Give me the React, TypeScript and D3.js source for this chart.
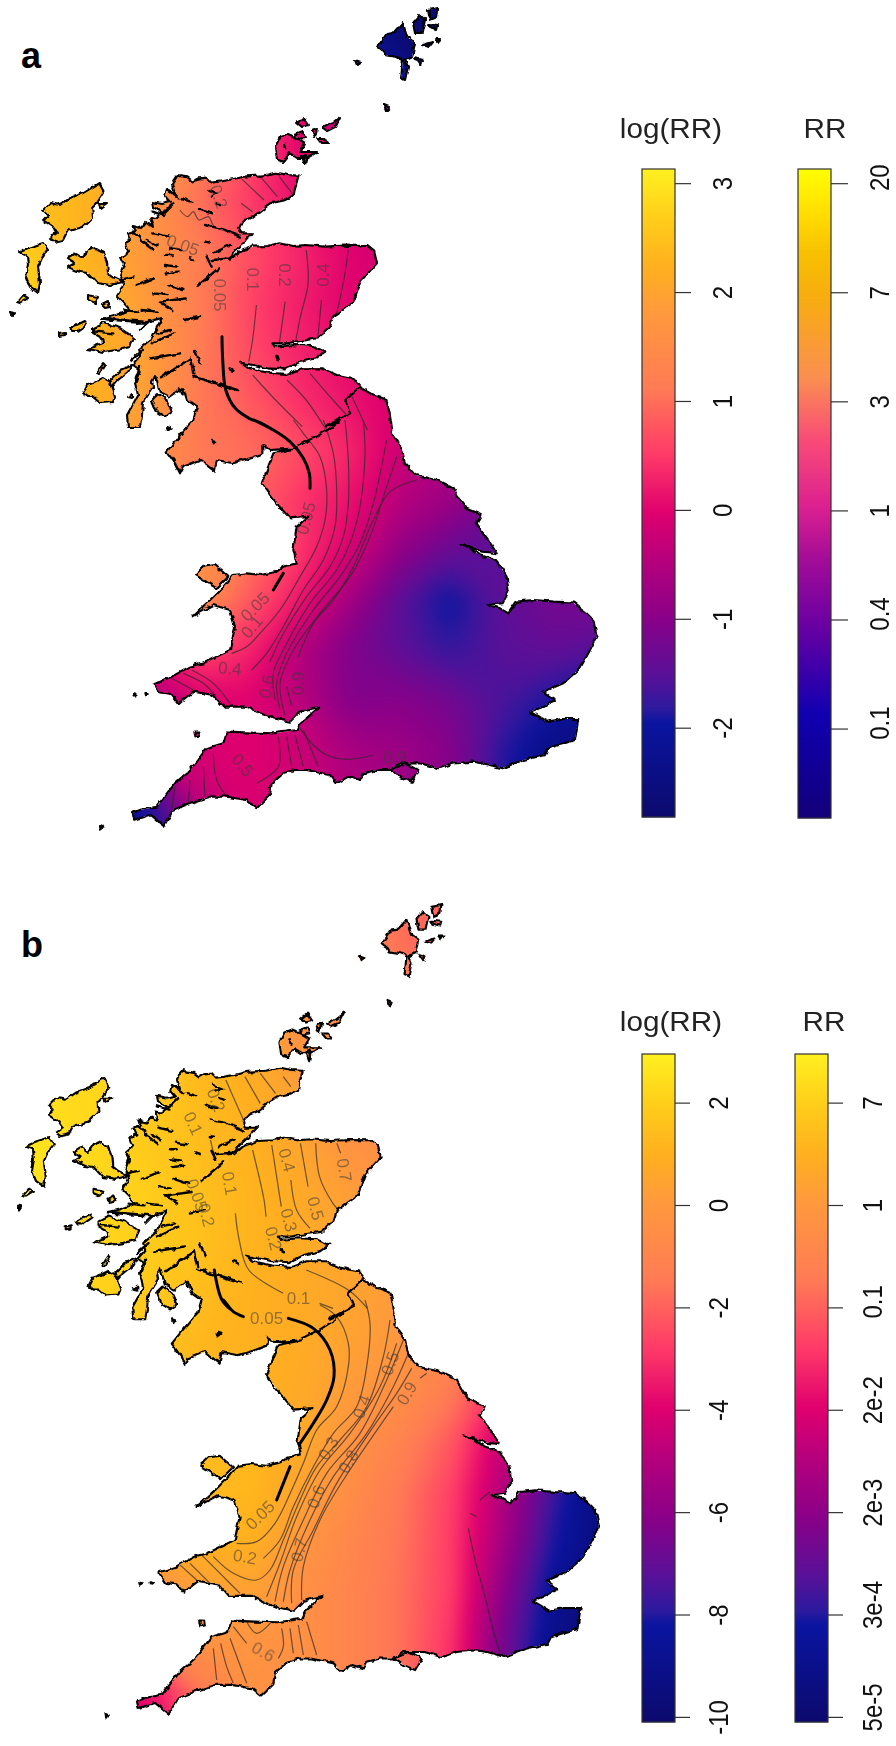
import React, { useEffect, useRef } from 'react';
import * as d3 from 'd3';

type Pt = [number, number];
type Label = [string, number, number, number];

// coast; "north" points sit in the top crop's units, "south" in the lower crop's
const northX = d3.scaleLinear().domain([0, 2613]).range([0, 1000]);
const northY = d3.scaleLinear().domain([0, 3000]).range([0, 1000]);
const southX = d3.scaleLinear().domain([0, 3000]).range([100, 1100]);
const southY = d3.scaleLinear().domain([0, 3000]).range([420, 1420]);
const fromNorth = (p: number[]): Pt => [northX(p[0]), northY(p[1])];
const fromSouth = (p: number[]): Pt => [southX(p[0]), southY(p[1])];
const fromCropC = (p: number[]): Pt => [120 + p[0] / 3, 170 + p[1] / 3];
const fromCropB = (p: number[]): Pt => [60 + p[0] / 3, 300 + p[1] / 3];

const coastEastNorth = [[462,527],[490,532],[505,545],[520,535],[540,533],[552,548],[575,545],[610,537],[635,530],[680,527],[722,518],[750,525],[780,527],[772,560],[768,585],[745,600],[712,608],[690,625],[662,650],[640,660],[625,680],[630,700],[660,700],[640,725],[612,755],[600,780],[625,755],[660,740],[700,738],[730,730],[765,738],[800,735],[850,740],[900,737],[960,738],[978,755],[985,790],[965,815],[945,840],[935,870],[925,905],[895,930],[870,950],[860,985],[830,1015],[790,1022],[750,1030],[712,1030],[718,1040],[770,1035],[815,1038],[850,1055],[825,1075],[785,1085],[745,1108],[700,1105],[660,1095],[630,1088],[650,1105],[700,1118],[750,1122],[790,1105],[840,1105],[880,1125],[925,1135],[945,1165],[975,1185],[1010,1200],[1018,1240],[1025,1290]];
const coastSouth = [[875,40],[890,60],[905,85],[915,130],[945,165],[1010,180],[1060,205],[1080,240],[1100,265],[1145,285],[1130,310],[1150,340],[1165,360],[1190,400],[1150,395],[1115,385],[1080,372],[1110,385],[1140,405],[1185,420],[1205,445],[1220,470],[1225,510],[1205,550],[1165,555],[1200,565],[1225,580],[1250,545],[1300,540],[1360,545],[1420,548],[1455,575],[1480,600],[1490,650],[1465,700],[1440,745],[1390,790],[1330,815],[1365,840],[1330,860],[1290,875],[1340,905],[1385,897],[1435,897],[1425,960],[1345,985],[1335,1005],[1270,1020],[1205,1045],[1170,1035],[1120,1025],[1060,1030],[1015,1045],[960,1030],[900,1030],[870,1050],[830,1050],[790,1060],[780,1080],[745,1070],[710,1090],[690,1065],[620,1050],[585,1050],[550,1060],[515,1090],[510,1125],[470,1165],[440,1140],[380,1130],[330,1130],[270,1150],[220,1170],[190,1220],[150,1185],[100,1200],[95,1180],[120,1170],[170,1160],[225,1090],[270,1050],[320,985],[370,970],[380,935],[450,938],[520,940],[590,930],[600,910],[655,860],[600,875],[570,905],[520,895],[480,880],[440,860],[370,860],[340,825],[280,815],[235,850],[215,825],[180,820],[160,790],[215,770],[270,740],[310,730],[350,710],[390,690],[405,620],[390,570],[340,555],[275,590],[330,540],[370,500],[400,465],[440,460],[485,465],[530,455],[550,440],[590,430],[580,390],[590,320],[625,290],[570,295],[530,250],[485,190],[520,100],[590,85],[510,90],[490,75],[490,100],[450,115],[400,130],[350,120],[345,155],[300,120],[250,140],[240,160],[225,130],[200,95],[220,70],[265,15],[280,0]];
const coastWest: Pt[] = [[197,407],[187,400],[183,388],[170,397],[160,392],[155,375],[152,382],[153,387],[143,403],[142,415],[140,427],[128,427],[127,415],[138,395],[135,383],[140,370],[133,365],[140,357],[138,350],[150,340],[162,318],[147,322],[123,321],[102,319],[117,315],[130,310],[123,302],[117,296],[122,288],[124,282],[120,275],[124,265],[121,258],[128,252],[125,243],[131,240],[128,233],[136,231],[133,226],[141,228],[146,222],[153,227],[150,217],[156,218],[162,212],[153,207],[152,202],[162,204],[170,202],[165,196],[167,190],[175,194],[172,184],[178,175]];

const islandRings: Pt[][] = [
  [[99,183],[104,192],[97,203],[92,208],[93,217],[83,227],[72,230],[67,232],[63,240],[55,242],[50,238],[57,233],[53,227],[43,220],[48,215],[43,210],[50,203],[60,205],[70,198],[83,193]],
  [[43,243],[48,250],[42,258],[38,267],[40,283],[38,293],[30,287],[26,277],[28,265],[27,255],[19,252],[28,248]],
  [[17,302],[23,295],[28,298],[20,303]],
  [[93,247],[103,253],[107,263],[108,273],[113,277],[123,282],[110,285],[97,283],[88,273],[80,272],[68,267],[75,263],[67,258],[75,253],[83,258],[88,250]],
  [[88,295],[98,297],[95,303],[88,300]],
  [[102,305],[108,302],[110,307],[105,308]],
  [[99,203],[107,203],[100,208]],
  [[70,328],[85,321],[87,324],[77,331],[72,331]],
  [[60,333],[65,332],[65,335],[60,336]],
  [[93,328],[103,323],[120,328],[134,338],[130,347],[117,350],[103,352],[88,349],[103,343],[102,338],[93,333]],
  [[110,380],[120,370],[132,365],[128,372],[118,380],[112,387]],
  [[83,393],[87,385],[93,383],[103,378],[110,383],[115,397],[113,402],[100,403],[93,397],[88,397]],
  [[97,372],[103,363],[105,365],[100,373]],
  [[128,397],[132,393],[132,398]],
  [[152,400],[158,394],[167,400],[172,412],[165,417],[157,412]],
  [[167,427],[170,428],[168,430]],
  [[275,147],[280,137],[288,134],[297,138],[305,143],[300,152],[317,152],[307,158],[298,158],[290,153],[283,162],[277,160]],
  [[295,135],[303,132],[305,138],[298,139]],
  [[297,123],[303,118],[308,125],[302,127]],
  [[312,130],[317,128],[315,137]],
  [[323,128],[332,123],[340,117],[335,127],[327,131]],
  [[318,138],[325,138],[328,143],[322,143]],
  [[302,157],[307,155],[305,165]],
  [[378,47],[387,33],[395,32],[403,23],[407,37],[415,43],[412,57],[405,60],[408,67],[405,80],[401,78],[403,60],[397,57],[385,55],[382,50]],
  [[413,23],[420,15],[425,20],[422,33],[415,33]],
  [[428,10],[438,8],[437,17],[430,20]],
  [[428,24],[438,25],[437,29],[430,27]],
  [[422,45],[432,42],[428,47]],
  [[436,39],[440,39],[438,42]],
  [[415,58],[422,60],[420,65]],
  [[355,60],[361,62],[357,65]],
  [[384,105],[389,107],[386,110]],
  [[11,312],[15,313],[13,316]],
];
const islandsSouth = [
  [[285,465],[310,440],[345,435],[385,470],[350,505],[310,480]],
  [[870,1050],[920,1030],[955,1050],[935,1085],[900,1070]],
  [[283,935],[295,935],[297,950],[286,952]],
  [[0,1218],[10,1222],[2,1232]],
  [[102,820],[110,822],[104,826]],
  [[136,819],[143,822],[138,826]],
  [[203,23],[212,26],[205,30]],
  [[338,62],[347,65],[340,70]],
];

// sea lochs and the other short black strokes inside the coast
const lochsCropC = [[[185,85],[215,95]],[[240,120],[275,130]],[[255,165],[300,175],[360,200]],[[130,130],[160,100]],[[95,125],[130,135]],[[150,65],[175,85]],[[265,60],[290,70],[275,80]],[[285,100],[300,105]],[[100,190],[145,200]],[[60,210],[100,240]],[[80,210],[110,225]],[[40,185],[60,205]],[[150,235],[185,240]],[[135,255],[155,255]],[[135,285],[170,290]],[[140,310],[175,305]],[[145,345],[190,360]],[[100,370],[140,375]],[[120,395],[200,385]],[[50,345],[100,325]],[[0,330],[40,320]],[[260,260],[275,290]],[[280,250],[330,225]],[[275,270],[330,265],[345,240]],[[230,350],[295,295]],[[255,215],[270,218]],[[210,265],[225,270]]];
const lochsCropB = [[[270,175],[360,160]],[[275,130],[340,100]],[[290,100],[330,90]],[[215,180],[250,150]],[[225,240],[240,200]],[[130,55],[250,65]],[[105,95],[160,100]],[[245,30],[290,35]],[[300,5],[340,30]],[[375,60],[420,50]],[[320,225],[390,175],[400,220]],[[300,235],[350,200]],[[405,150],[420,190]],[[360,265],[368,280]],[[240,90],[270,60]],[[190,30],[235,35]],[[232,68],[262,68]]];
const lochsNorth = [[[505,1130],[620,1170]],[[725,1068],[728,1078]],[[745,432],[748,445]],[[600,1105],[610,1112]]];
const borderNorth = [[940,1160],[900,1200],[915,1240],[850,1280]];
const borderSouth = [[720,0],[690,25],[650,50],[590,80]];

// risk fields: log(RR) every 50 px, x from 0 to 650, y from -50 to 850
const gridXCount = 14;
const gridYCount = 19;
const logRRa = [
  2.6,2.5,2.2,1.6,1.0,.4,-.4,-1.8,-2.7,-2.8,-2.8,-2.8,-2.8,-2.8,
  2.6,2.5,2.2,1.6,1.0,.4,-.4,-1.8,-2.7,-2.8,-2.8,-2.8,-2.8,-2.8,
  2.6,2.5,2.2,1.6,1.0,.4,-.4,-1.8,-2.7,-2.8,-2.8,-2.8,-2.8,-2.8,
  2.6,2.5,2.3,1.8,1.2,.6,.0,-.6,-1.6,-2.2,-2.4,-2.4,-2.4,-2.4,
  2.6,2.5,2.4,2.0,1.3,.7,.0,-.25,-.6,-1,-1.4,-1.6,-1.6,-1.6,
  2.7,2.4,2.2,1.7,1.0,.5,.1,-.2,-.4,-.7,-1,-1.2,-1.2,-1.2,
  2.8,2.5,2.2,1.7,1.2,.7,.35,.0,-.2,-.4,-.6,-.8,-.8,-.8,
  2.8,2.6,2.3,1.8,1.2,.6,.25,.0,-.2,-.4,-.6,-.8,-.8,-.8,
  2.7,2.5,2.2,1.9,1.2,.65,.3,.05,-.1,-.3,-.5,-.7,-.8,-.8,
  2.6,2.4,2.2,1.9,1.1,.8,.4,.15,-.1,-.3,-.6,-.8,-.9,-.9,
  2.5,2.3,2.1,1.7,1.1,1.0,.7,.35,-.2,-.6,-.9,-1,-1.1,-1.1,
  2.3,2.1,1.9,1.6,1.2,.9,.45,.15,-.45,-.75,-1.2,-1.3,-1.3,-1.3,
  2.2,2,1.8,1.6,1.6,1.1,.5,-.1,-.9,-1.35,-1.5,-1.5,-1.5,-1.5,
  2,1.8,1.6,1.6,1.6,.8,.2,-.7,-1.5,-2.05,-1.45,-1.2,-1.2,-1.2,
  1.5,1.2,.9,.1,.7,.35,-.5,-1.1,-1.45,-1.8,-1.5,-1.4,-1.5,-1.5,
  .5,.2,-.1,-.6,-.1,0,-.4,-1.1,-1.0,-1.2,-1.6,-1.9,-2.2,-2.4,
  -.5,-.5,-.4,-.2,-.1,0,-.2,-.6,-.75,-1,-1.8,-2.4,-2.6,-2.7,
  -2.6,-2.6,-2.5,-1.9,-.3,-.05,-.2,-.5,-.7,-1,-1.8,-2.4,-2.6,-2.7,
  -2.8,-2.8,-2.7,-2.2,-.8,-.2,-.3,-.5,-.7,-1,-1.8,-2.4,-2.6,-2.7,
];
const logRRb = [
  2.5,2.4,2,1.5,.9,.3,-.3,-1,-1.7,-2,-2,-2,-2,-2,
  2.5,2.4,2,1.5,.9,.3,-.3,-1,-1.7,-2,-2,-2,-2,-2,
  2.5,2.4,2,1.5,.9,.3,-.3,-1,-1.7,-2,-2,-2,-2,-2,
  2.5,2.4,2.1,1.6,1.0,.5,-.1,-.5,-1.2,-1.6,-1.8,-1.8,-1.8,-1.8,
  2.5,2.4,2.2,1.7,1.2,.7,-.3,-.6,-.8,-1.2,-1.4,-1.6,-1.6,-1.6,
  2.6,2.4,2.2,1.8,1.3,.9,.3,-.2,-.6,-.8,-1,-1.2,-1.2,-1.2,
  2.7,2.5,2.2,1.8,1.4,1.0,.5,-.3,-.5,-.7,-.8,-1,-1,-1,
  2.7,2.5,2.3,1.9,1.5,1.1,.7,.2,-.2,-.4,-.6,-.8,-.8,-.8,
  2.6,2.4,2.2,1.9,1.5,1.1,.8,.4,0,-.2,-.4,-.6,-.6,-.6,
  2.5,2.3,2.1,1.8,1.4,1.0,.8,.5,.1,-.2,-.5,-.8,-1,-1,
  2.4,2.2,2,1.6,1.2,1,.8,.4,-.1,-.8,-1.5,-2,-2.5,-2.5,
  2.3,2.1,1.9,1.6,1.3,1.1,.7,.1,-.5,-1.4,-3.2,-4.5,-5,-5,
  2.2,2,1.8,1.6,1.4,1.2,.7,-.3,-1.1,-2.2,-4.5,-6,-7,-7,
  2.1,1.9,1.7,1.5,1.4,1.2,.4,-.6,-1.5,-2.7,-5,-7.6,-9.5,-10,
  1.5,1.3,1,.8,1.1,1,-.1,-.9,-1.6,-2.8,-5.4,-8,-9.5,-10,
  .2,0,-.2,-.3,.3,.4,-.4,-1,-1.7,-2.8,-6,-8.6,-9.7,-10,
  -1,-.9,-.8,-.5,-.3,-.1,-.4,-1,-1.7,-3,-6.5,-9,-9.8,-10,
  -4.5,-4.5,-4.2,-3.4,-1.2,-.3,-.4,-1,-1.7,-3,-6.5,-9,-9.8,-10,
  -5,-5,-5,-4,-2,-.6,-.5,-1,-1.7,-3,-6.5,-9,-9.8,-10,
];

// colour bars, low to high, sampled from the legends
const paletteStops = [0, .145, .165, .22, .306, .4, .47, .56, .66, .78, .85, .93, 1];
const paletteColors = ['#0c0a6e', '#0a14a0', '#2a1a9e', '#5a1098', '#8a0088', '#b8007c', '#e0006e', '#ff3a68', '#ff7a55', '#ff9a3c', '#ffb01e', '#ffd01a', '#fff020'];
const rrStops = [0, .16, .3, .4, .48, .58, .68, .8, .87, .92, 1];
const rrColors = ['#12007a', '#1000b0', '#6c00a2', '#a40c98', '#dc2090', '#f84a78', '#fb8f50', '#f8ac10', '#f8c000', '#ffd800', '#ffff00'];

const ticksAlog = [3, 2, 1, 0, -1, -2];
const ticksArr = ['20', '7', '3', '1', '0.4', '0.1'];
const ticksBlog = [2, 0, -2, -4, -6, -8, -10];
const ticksBrr = ['7', '1', '0.1', '2e-2', '2e-3', '3e-4', '5e-5'];

// contour lines as polylines in crop units
const contoursANorth = [[[670,915],[660,1020],[650,1085]],[[660,1125],[720,1200],[790,1280]],[[745,905],[730,1030]],[[800,750],[805,850],[785,950],[770,1040]],[[840,900],[830,1020]],[[910,750],[900,830],[880,940]],[[750,1140],[800,1200],[850,1285]],[[810,1120],[870,1200],[910,1250]],[[920,1190],[960,1290]],[[630,535],[690,600]],[[730,530],[770,590]],[[680,530],[725,590]],[[630,610],[660,635]],[[470,630],[490,650],[505,635],[520,660],[545,650],[560,680],[620,700]]];
const contoursASouth = [
  [[395,700],[440,680],[480,640],[540,570],[600,470],[650,380],[675,300],[680,210],[660,110],[610,40],[580,0]],
  [[455,750],[500,700],[550,620],[610,510],[670,420],[705,320],[710,210],[700,100],[670,0]],
  [[510,725],[545,650],[620,530],[690,440],[730,350],[745,250],[745,120],[735,0]],
  [[525,840],[520,760],[550,690],[630,550],[710,450],[750,370],[780,260],[795,100],[790,0]],
  [[540,870],[530,790],[555,710],[640,570],[720,470],[780,370],[820,250],[860,60]],
  [[555,885],[540,790],[580,690],[660,580],[750,470],[810,350],[860,200],[890,110]],
  [[595,710],[640,610],[700,540],[760,440],[820,300],[870,215],[950,180]],
  [[575,860],[560,800]],
  [[600,925],[640,975],[680,1005],[740,1018],[820,1005]],
  [[535,950],[535,1040],[470,1090]],[[560,950],[575,1040]],[[585,945],[610,1040]],[[610,930],[655,1040]],
  [[340,1000],[350,1080],[380,1130]],[[310,1040],[315,1130]],[[270,1080],[265,1150]],[[225,1100],[215,1170]],
  [[250,760],[310,790],[340,820]],[[275,750],[340,790],[390,850]],[[215,775],[280,810]],
];
const thickANorth = [[580,1010],[582,1080],[590,1170],[615,1225],[660,1260]];
const thickASouth = [[460,0],[520,30],[570,65],[610,115],[628,160],[630,205]];
const thickASouth2 = [[520,510],[550,460]];

const contoursBNorth = [[[660,810],[690,960],[695,1010]],[[710,795],[735,980]],[[785,790],[805,920]],[[825,790],[835,890],[870,970],[885,990]],[[880,790],[890,820]],[[760,900],[775,990],[810,1045]],[[615,1000],[625,1080],[650,1170],[740,1240]],[[835,1270],[870,1285]],[[800,1170],[910,1230],[960,1285]],[[550,780],[560,830]],[[590,600],[640,730]],[[640,590],[680,670]],[[680,580],[720,640]],[[740,590],[760,620]]];
const contoursBSouth = [
  [[410,730],[470,725],[525,670],[575,570],[610,490],[650,390],[710,320],[745,200],[745,130],[710,50],[660,15]],
  [[490,775],[540,720],[580,620],[640,500],[700,400],[770,320],[800,200],[810,70],[795,0]],
  [[340,770],[400,820],[470,840],[510,810],[550,720],[600,600],[650,500],[720,420],[800,320],[850,170],[870,60]],
  [[500,890],[540,790],[590,650],[660,510],[750,400],[840,260],[890,130]],
  [[525,905],[550,800],[610,660],[680,520],[780,400],[860,240],[910,120]],
  [[550,905],[570,810],[630,660],[700,530],[800,400],[880,260],[925,160]],
  [[575,910],[580,810],[640,690],[710,550],[820,380],[890,280],[935,205]],
  [[605,900],[610,800],[660,660],[730,540],[880,320]],
  [[960,235],[980,220]],
  [[440,965],[470,1000],[515,965]],[[400,980],[440,1030]],[[545,985],[550,1040],[535,1075]],[[570,985],[580,1060]],[[595,975],[610,1065]],[[620,965],[650,1065]],
  [[362,1030],[380,1100],[400,1150]],[[340,1045],[350,1140]],[[390,1015],[440,1150]],
  [[300,760],[370,830],[420,880]],[[270,790],[330,850]],[[235,790],[290,840]],
  [[1105,685],[1130,800],[1150,870],[1180,990],[1200,1060]],[[1110,640],[1130,650]],[[1140,600],[1170,575]],
];
const thickBNorth = [[560,1170],[580,1260],[605,1290]];
const thickBSouth = [[370,0],[400,35],[430,50]];
const thickBSouth2 = [[565,55],[640,85],[690,150],[702,230],[680,300],[640,370],[600,430]];
const thickBSouth3 = [[530,600],[570,500]];

const labelsANorth: Label[] = [['0.2',572,590,70],['0.05',478,735,20],['0.1',662,838,90],['0.2',745,825,90],['0.4',843,825,-90],['0.05',575,885,90]];
const labelsASouth: Label[] = [['0.05',618,295,-75],['0.05',465,560,-45],['0.1',455,620,-50],['0.4',390,745,5],['0.6',500,800,-80],['0.9',595,790,-90],['0.5',428,1035,50],['0.9',885,1010,0]];
const labelsBNorth: Label[] = [['0.2',565,660,70],['0.1',505,730,65],['0.1',600,910,80],['0.05',515,945,70],['0.2',540,1005,75],['0.4',750,840,75],['0.5',825,985,75],['0.7',900,870,80],['0.3',755,1020,75],['0.2',715,1075,75],['0.1',780,1255,0]];
const labelsBSouth: Label[] = [['0.05',500,55,0],['0.5',870,190,-70],['0.4',785,320,-70],['0.3',685,445,-60],['0.8',745,485,-60],['0.9',920,280,-60],['0.6',648,590,-70],['0.7',597,750,-75],['0.05',480,645,-45],['0.2',435,770,10],['0.6',490,1055,30]];

const mainland: Pt[] = [...coastEastNorth.map(fromNorth), ...coastSouth.map(fromSouth), ...coastWest];
const islands: Pt[][] = [...islandRings, ...islandsSouth.map(r => r.map(fromSouth))];
const lochs: Pt[][] = [...lochsCropC.map(r => r.map(fromCropC)), ...lochsCropB.map(r => r.map(fromCropB)), ...lochsNorth.map(r => r.map(fromNorth))];
const border: Pt[] = [...borderNorth.map(fromNorth), ...borderSouth.map(fromSouth)];
const fontFamily = '"Liberation Sans", Arial, sans-serif';

export default function App() {
  const ref = useRef<SVGSVGElement>(null);

  useEffect(() => {
    const svg = d3.select(ref.current);
    svg.selectAll('*').remove();
    const defs = svg.append('defs');
    const fullPage = (sel: any) => sel.attr('filterUnits', 'userSpaceOnUse').attr('x', 0).attr('y', 0).attr('width', 896).attr('height', 1746)
      .attr('color-interpolation-filters', 'sRGB');
    fullPage(defs.append('filter').attr('id', 'softA')).append('feGaussianBlur').attr('stdDeviation', 12);
    fullPage(defs.append('filter').attr('id', 'softB')).append('feGaussianBlur').attr('stdDeviation', 7);
    fullPage(defs.append('filter').attr('id', 'line')).append('feGaussianBlur').attr('stdDeviation', 0.55);
    // the coast is rougher than the trace: wobble its stroke a little
    const rough = fullPage(defs.append('filter').attr('id', 'rough'));
    rough.append('feTurbulence').attr('type', 'fractalNoise').attr('baseFrequency', 0.14).attr('numOctaves', 2).attr('seed', 4).attr('result', 'n');
    rough.append('feDisplacementMap').attr('in', 'SourceGraphic').attr('in2', 'n').attr('scale', 5).attr('xChannelSelector', 'R').attr('yChannelSelector', 'G');
    rough.append('feGaussianBlur').attr('stdDeviation', 0.6);

    const palette = d3.scaleLinear<string>().domain(paletteStops).range(paletteColors).interpolate(d3.interpolateRgb);
    const rrPalette = d3.scaleLinear<string>().domain(rrStops).range(rrColors).interpolate(d3.interpolateRgb);

    const drawMap = (id: string, blur: string, field: number[], domain: number[], px: d3.ScaleLinear<number, number>, py: d3.ScaleLinear<number, number>,
      extra: { lines: Pt[][]; thick: Pt[][]; labels: Label[] }) => {
      const g = svg.append('g');
      const project = (r: Pt[]) => r.map(p => [px(p[0]), py(p[1])] as Pt);
      const closed = d3.line<Pt>().curve(d3.curveLinearClosed);
      const open = d3.line<Pt>().curve(d3.curveLinear);
      const smooth = d3.line<Pt>().curve(d3.curveCatmullRom.alpha(0.5));

      const land = [mainland, ...islands].map(project);
      defs.append('clipPath').attr('id', id).selectAll('path').data(land).join('path').attr('d', d => closed(d));

      // pad one repeated column on the west so the blur does not fade the Hebrides
      const padded: number[] = [];
      for (let j = 0; j < gridYCount; j++) {
        padded.push(field[j * gridXCount], ...field.slice(j * gridXCount, (j + 1) * gridXCount));
      }
      const t = d3.scaleLinear().domain(domain).range([0, 1]);
      const gx = d3.scaleLinear().domain([0.5, gridXCount + 0.5]).range([px(-50), px(650)]);
      const gy = d3.scaleLinear().domain([0.5, gridYCount - 0.5]).range([py(-50), py(850)]);
      const step = (domain[1] - domain[0]) / 240;
      const bands = d3.contours().size([gridXCount + 1, gridYCount]).thresholds(d3.range(domain[0], domain[1], step))(padded);
      const bandPath = d3.geoPath(d3.geoTransform({ point(x, y) { this.stream.point(gx(x), gy(y)); } }));

      const clipped = g.append('g').attr('clip-path', `url(#${id})`);
      clipped.append('g').attr('filter', `url(#${blur})`)
        .selectAll('path').data(bands).join('path')
        .attr('d', d => bandPath(d))
        .attr('fill', d => palette(t(d.value)));

      clipped.append('g').attr('filter', 'url(#line)').selectAll('path').data(extra.lines).join('path')
        .attr('d', d => smooth(d)).attr('fill', 'none')
        .attr('stroke', '#2a2a2a').attr('stroke-opacity', 0.68).attr('stroke-width', 1.2);

      const ink = g.append('g').attr('filter', 'url(#rough)');
      ink.selectAll('path.coast').data(land).join('path').attr('class', 'coast')
        .attr('d', d => closed(d)).attr('fill', 'none')
        .attr('stroke', '#000').attr('stroke-width', 2.1).attr('stroke-linejoin', 'round');
      ink.selectAll('path.loch').data(lochs.map(project)).join('path').attr('class', 'loch')
        .attr('d', d => open(d)).attr('fill', 'none')
        .attr('stroke', '#000').attr('stroke-width', 2.4).attr('stroke-linecap', 'round');
      ink.append('path').attr('d', open(project(border))).attr('fill', 'none').attr('stroke', '#000').attr('stroke-width', 2.1);

      g.append('g').attr('filter', 'url(#line)').selectAll('path').data(extra.thick).join('path')
        .attr('d', d => smooth(d)).attr('fill', 'none')
        .attr('stroke', '#000').attr('stroke-width', 3).attr('stroke-linecap', 'round');

      g.append('g').attr('filter', 'url(#line)').selectAll('text').data(extra.labels).join('text')
        .attr('transform', d => `translate(${d[1]},${d[2]}) rotate(${d[3]})`)
        .attr('text-anchor', 'middle').attr('dy', '0.35em')
        .attr('font-family', fontFamily).attr('font-size', 17)
        .attr('fill', '#3a3a3a').attr('fill-opacity', 0.55)
        .text(d => d[0]);
    };

    const drawBar = (x: number, top: number, bottom: number, width: number, tickLen: number, labelX: number, domain: number[], colour: (v: number) => string,
      ticks: number[], labels: string[], title: string, titleX: number, titleY: number, shift: (s: string) => number) => {
      const y = d3.scaleLinear().domain(domain).range([bottom, top]);
      const g = svg.append('g').attr('filter', 'url(#line)');
      const rows = d3.range(top, bottom);
      const frac = d3.scaleLinear().domain([bottom, top]).range([0, 1]);
      g.selectAll('rect.step').data(rows).join('rect').attr('class', 'step')
        .attr('x', x).attr('y', d => d).attr('width', width).attr('height', 1.4)
        .attr('fill', d => colour(frac(d + 0.5)));
      g.append('rect').attr('x', x).attr('y', top).attr('width', width).attr('height', bottom - top)
        .attr('fill', 'none').attr('stroke', '#333').attr('stroke-width', 1.2);
      const axis = d3.axisRight(y).tickValues(ticks).tickSize(tickLen).tickFormat((_, i) => labels[i]);
      const ag = g.append('g').attr('transform', `translate(${x + width},0)`).call(axis);
      ag.select('.domain').remove();
      ag.selectAll('.tick line').attr('stroke', '#333').attr('stroke-width', 1.2);
      ag.selectAll('.tick text')
        .attr('x', null).attr('dy', null)
        .attr('transform', (_, i) => `translate(${labelX - x - width},${shift(labels[i])}) rotate(-90) scale(1,1.13)`)
        .attr('text-anchor', 'middle').attr('dominant-baseline', 'central')
        .attr('font-family', fontFamily).attr('font-size', 24).attr('fill', '#111');
      g.append('text').attr('transform', `translate(${titleX},${titleY}) scale(1.1,1)`).attr('text-anchor', 'middle')
        .attr('font-family', fontFamily).attr('font-size', 27).attr('fill', '#222')
        .text(title);
    };

    const identity = d3.scaleLinear().domain([0, 1]).range([0, 1]);
    const bx = d3.scaleLinear().domain([0, 1000]).range([6.1, 6.1 + 993.6]);
    const by = d3.scaleLinear().domain([0, 1000]).range([897, 897 + 989]);
    const fromNorthB = (p: number[]): Pt => [northX(p[0]), 880 + northY(p[1])];
    const fromSouthB = (p: number[]): Pt => [southX(p[0]), 880 + southY(p[1])];
    const labelAt = (l: Label, f: (p: number[]) => Pt): Label => {
      const p = f([l[1], l[2]]);
      return [l[0], p[0], p[1], l[3]];
    };

    drawMap('landA', 'softA', logRRa, [-2.82, 3.13], identity, identity, {
      lines: [...contoursANorth.map(r => r.map(fromNorth)), ...contoursASouth.map(r => r.map(fromSouth))],
      thick: [[...thickANorth.map(fromNorth), ...thickASouth.map(fromSouth)], thickASouth2.map(fromSouth)],
      labels: [...labelsANorth.map(l => labelAt(l, fromNorth)), ...labelsASouth.map(l => labelAt(l, fromSouth))],
    });
    drawMap('landB', 'softB', logRRb, [-10.1, 2.95], bx, by, {
      lines: [...contoursBNorth.map(r => r.map(fromNorthB)), ...contoursBSouth.map(r => r.map(fromSouthB))],
      thick: [[...thickBNorth.map(fromNorthB), ...thickBSouth.map(fromSouthB)], thickBSouth2.map(fromSouthB), thickBSouth3.map(fromSouthB)],
      labels: [...labelsBNorth.map(l => labelAt(l, fromNorthB)), ...labelsBSouth.map(l => labelAt(l, fromSouthB))],
    });

    const noShift = () => 0;
    const rrShift = (s: string) => (s.length >= 4 ? -10 : s.length >= 2 ? -6 : 0);
    drawBar(642, 169, 817, 33, 16, 722, [-2.82, 3.13], palette, ticksAlog, ticksAlog.map(String), 'log(RR)', 671, 138, noShift);
    drawBar(798, 169, 818, 33, 17, 879, [-2.82, 3.13], rrPalette, ticksAlog, ticksArr, 'RR', 825, 138, rrShift);
    drawBar(642, 1054, 1722, 33, 15, 718, [-10.1, 2.95], palette, ticksBlog, ticksBlog.map(String), 'log(RR)', 671, 1031, noShift);
    drawBar(795, 1054, 1722, 33, 15, 872, [-10.1, 2.95], palette, ticksBlog, ticksBrr, 'RR', 824, 1031, rrShift);

    svg.append('text').attr('x', 21).attr('y', 68).attr('font-family', fontFamily)
      .attr('font-weight', 'bold').attr('font-size', 36).text('a');
    svg.append('text').attr('x', 21).attr('y', 957).attr('font-family', fontFamily)
      .attr('font-weight', 'bold').attr('font-size', 36).text('b');
  }, []);

  return <svg ref={ref} width={896} height={1746} style={{ position: 'absolute', left: 0, top: 0, background: '#fff' }} />;
}
